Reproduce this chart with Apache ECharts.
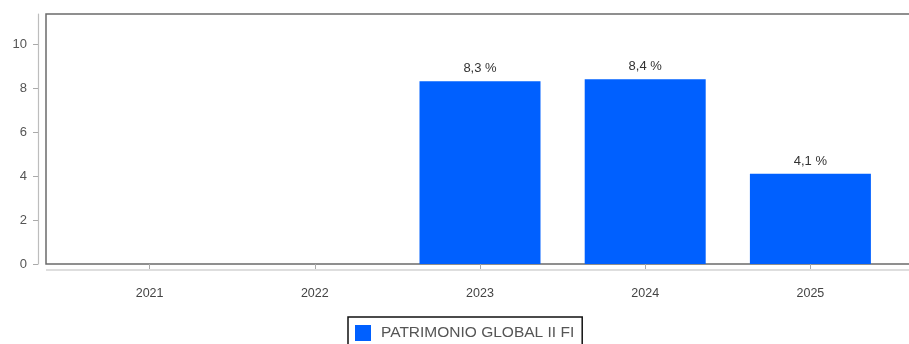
<!DOCTYPE html>
<html>
<head>
<meta charset="utf-8">
<script src="https://cdn.jsdelivr.net/npm/echarts@6/dist/echarts.min.js"></script>
<style>
  html, body { margin: 0; padding: 0; background: #fff; }
  #chart { width: 909px; height: 344px; }
</style>
</head>
<body>
<div id="chart"></div>
<script>
const years = ["2021", "2022", "2023", "2024", "2025"];
const rentabilidad = [null, null, 8.3, 8.4, 4.1];
const yTicks = [0, 2, 4, 6, 8, 10];
const serieName = "PATRIMONIO GLOBAL II FI";

const chart = echarts.init(document.getElementById("chart"));
chart.setOption({
  animation: false,
  textStyle: { fontFamily: "Liberation Sans, Arial, sans-serif" },
  grid: { left: 67, right: 16, top: 14, bottom: 80 },
  graphic: [
    {
      // frame of the plot area
      type: "rect",
      shape: { x: 46, y: 14, width: 880, height: 250 },
      style: { fill: "none", stroke: "#6b6b6b", lineWidth: 1.5 },
      silent: true
    },
    {
      // lower x axis line
      type: "line",
      shape: { x1: 46, y1: 270, x2: 909, y2: 270 },
      style: { stroke: "#bdbdbd", lineWidth: 1.2 },
      silent: true
    }
  ],
  legend: {
    left: 348,
    top: 317,
    data: [serieName],
    icon: "rect",
    itemWidth: 16,
    itemHeight: 16,
    padding: [8, 8, 8, 7],
    borderColor: "#111",
    borderWidth: 1.5,
    borderRadius: 0,
    textStyle: { color: "#555", fontSize: 15.5, padding: [0, 0, 0, 5] }
  },
  xAxis: {
    type: "category",
    data: years,
    offset: 6,
    axisLine: { show: false },
    axisTick: { show: true, alignWithLabel: true, length: 5, lineStyle: { color: "#aaa" } },
    axisLabel: { color: "#444", fontSize: 12.5, margin: 17 }
  },
  yAxis: {
    type: "value",
    min: 0,
    max: 11.36,
    interval: 2,
    offset: 29,
    splitLine: { show: false },
    axisLine: { show: true, lineStyle: { color: "#bdbdbd", width: 1.2 } },
    axisTick: { show: true, length: 5, lineStyle: { color: "#aaa" }, customValues: yTicks },
    axisLabel: { color: "#555", fontSize: 13, margin: 11, customValues: yTicks }
  },
  series: [
    {
      name: serieName,
      type: "bar",
      data: rentabilidad,
      barWidth: 121,
      itemStyle: { color: "#0060ff" },
      label: {
        show: true,
        position: "top",
        distance: 6,
        color: "#333",
        fontSize: 13,
        formatter: (p) => String(p.value).replace(".", ",") + " %"
      }
    }
  ]
});
</script>
</body>
</html>
